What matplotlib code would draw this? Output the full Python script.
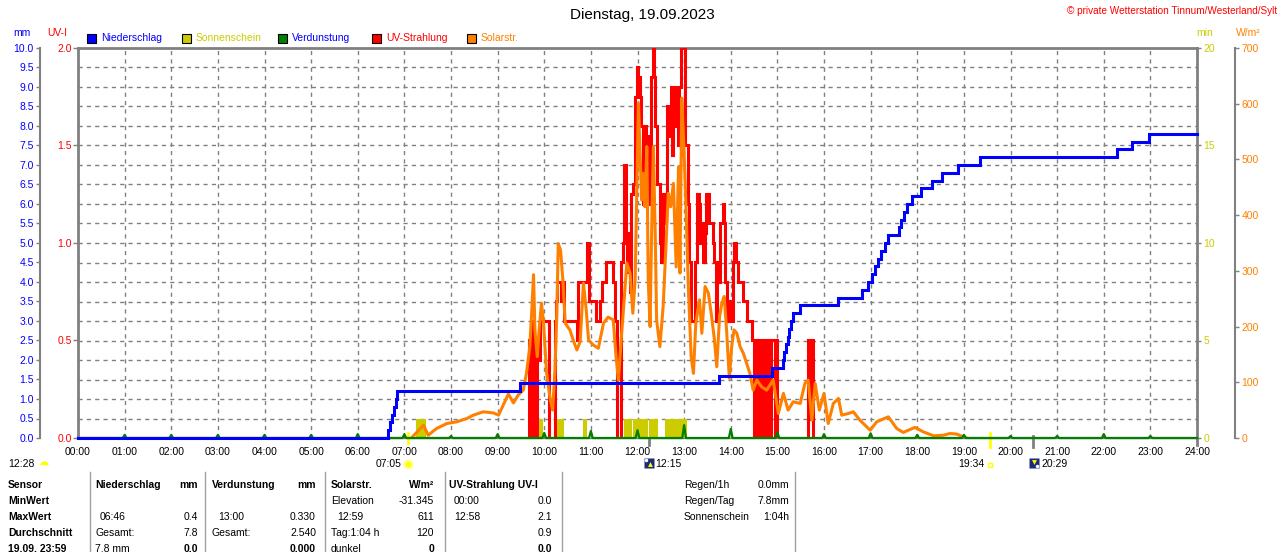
"""
Tagesgrafik Wetterstation: Niederschlag, Sonnenschein, Verdunstung,
UV-Strahlung und Solarstrahlung fuer einen Tag (19.09.2023).
"""
import numpy as np
import matplotlib
matplotlib.use("Agg")
import matplotlib.pyplot as plt
from matplotlib.lines import Line2D
from matplotlib.patches import Rectangle
from matplotlib.transforms import blended_transform_factory

plt.rcParams["font.family"] = ["Liberation Sans", "DejaVu Sans"]

# ── Daten ─────────────────────────────────────────────────────────────────────
hours = list(range(25))
hour_labels = [f"{h:02d}:00" for h in hours]

# Niederschlag kumuliert (mm), Stufen
rain_t = [0, 6.65, 6.69, 6.73, 6.77, 6.81, 6.85, 9.48, 13.75, 14.88,
          15.12, 15.15, 15.19, 15.23, 15.26, 15.30, 15.34, 15.49, 16.29, 16.81,
          16.95, 17.02, 17.09, 17.16, 17.23, 17.30, 17.37, 17.60, 17.66, 17.72,
          17.78, 17.88, 18.09, 18.31, 18.54, 18.88, 19.35, 22.29, 22.60, 22.96, 24]
rain_mm = [0, 0.2, 0.4, 0.6, 0.8, 1.0, 1.2, 1.4, 1.6, 1.8,
           2.0, 2.2, 2.4, 2.6, 2.8, 3.0, 3.2, 3.4, 3.6, 3.8,
           4.0, 4.2, 4.4, 4.6, 4.8, 5.0, 5.2, 5.4, 5.6, 5.8,
           6.0, 6.2, 6.4, 6.6, 6.8, 7.0, 7.2, 7.4, 7.6, 7.8, 7.8]

# Sonnenschein (min)
sun_start = [7.25, 9.73, 10.21, 10.84, 11.70, 11.91, 12.25, 12.59]
sun_end   = [7.46, 9.98, 10.42, 10.92, 11.88, 12.22, 12.43, 13.06]
sun_min   = [1, 1, 1, 1, 1, 1, 1, 1]

# Verdunstung je Stunde (mm)
evap_h  = list(range(1, 24))
evap_mm = [0.08, 0.08, 0.08, 0.08, 0.08, 0.10, 0.10, 0.05, 0.10, 0.13, 0.18, 0.20,
           0.33, 0.23, 0.15, 0.10, 0.12, 0.08, 0.08, 0.05, 0.05, 0.10, 0.05]

# UV-Index
uv_t = [0, 9.67, 9.70, 9.72, 9.75, 9.78, 9.80, 9.82, 9.84, 9.87, 9.91, 10.11, 10.23,
        10.25, 10.28, 10.35, 10.40, 10.42, 10.70, 10.73, 10.91, 10.95, 11.12, 11.20,
        11.23, 11.32, 11.48, 11.52, 11.57, 11.64, 11.68, 11.72, 11.75, 11.77, 11.80,
        11.84, 11.87, 11.91, 11.95, 11.98, 12.02, 12.05, 12.08, 12.11, 12.15, 12.18,
        12.23, 12.27, 12.29, 12.33, 12.35, 12.38, 12.41, 12.48, 12.50, 12.54, 12.57,
        12.61, 12.64, 12.68, 12.71, 12.74, 12.77, 12.81, 12.84, 12.87, 12.90, 12.93,
        13.02, 13.08, 13.11, 13.14, 13.23, 13.27, 13.31, 13.34, 13.38, 13.41, 13.45,
        13.47, 13.54, 13.61, 13.64, 13.68, 13.71, 13.75, 13.78, 13.83, 13.86, 13.88,
        13.91, 13.95, 14.00, 14.04, 14.07, 14.11, 14.16, 14.26, 14.34, 14.45, 14.49,
        14.51, 14.54, 14.56, 14.59, 14.61, 14.64, 14.66, 14.69, 14.71, 14.74, 14.76,
        14.79, 14.81, 14.84, 14.86, 14.95, 14.97, 14.99, 15.66, 15.70, 15.72, 15.76, 24]
uv_i = [0, 0.5, 0.0, 0.6, 0.4, 0.0, 0.5, 0.0, 0.5, 0.4, 0.6, 0.0, 0.6,
        0.7, 0.8, 0.7, 0.8, 0.6, 0.5, 0.8, 1.0, 0.7, 0.6, 0.7,
        0.8, 0.9, 0.8, 0.6, 0.0, 0.9, 1.0, 1.4, 1.0, 0.85, 1.05,
        0.75, 1.25, 1.3, 1.75, 1.9, 1.85, 1.75, 1.6, 1.2, 1.6, 1.2,
        1.55, 1.2, 1.85, 2.0, 1.85, 1.6, 1.3, 1.0, 0.9, 1.25, 1.1,
        1.25, 1.7, 1.55, 1.8, 1.45, 1.8, 1.6, 1.8, 1.5, 1.8, 2.0,
        1.5, 1.2, 0.9, 0.6, 0.9, 1.25, 1.2, 1.0, 1.1, 0.9, 1.05,
        1.25, 1.1, 1.0, 0.9, 0.6, 0.9, 0.8, 1.1, 1.2, 1.1, 0.8,
        0.6, 0.7, 0.6, 0.9, 1.0, 0.9, 0.8, 0.7, 0.6, 0.5, 0.0,
        0.5, 0.0, 0.5, 0.0, 0.5, 0.0, 0.5, 0.0, 0.5, 0.0, 0.5,
        0.0, 0.5, 0.0, 0.5, 0.0, 0.5, 0.0, 0.5, 0.1, 0.5, 0.0, 0]

# Solarstrahlung (W/m²)
solar_t = [7.15, 7.41, 7.51, 7.69, 7.91, 8.12, 8.34, 8.48, 8.69, 8.91, 9.02, 9.12,
           9.23, 9.34, 9.44, 9.55, 9.62, 9.69, 9.73, 9.77, 9.80, 9.85, 9.89, 9.94,
           9.98, 10.05, 10.12, 10.18, 10.23, 10.27, 10.30, 10.35, 10.40, 10.45, 10.55,
           10.62, 10.70, 10.77, 10.84, 10.90, 10.95, 11.05, 11.16, 11.27, 11.37, 11.48,
           11.54, 11.59, 11.66, 11.73, 11.77, 11.84, 11.90, 11.95, 12.02, 12.05, 12.09,
           12.12, 12.16, 12.20, 12.23, 12.27, 12.30, 12.34, 12.38, 12.41, 12.48, 12.55,
           12.61, 12.66, 12.71, 12.77, 12.83, 12.88, 12.91, 12.95, 13.00, 13.04, 13.09,
           13.15, 13.20, 13.25, 13.33, 13.38, 13.45, 13.52, 13.59, 13.65, 13.70, 13.76,
           13.81, 13.86, 13.91, 13.97, 14.02, 14.07, 14.13, 14.20, 14.27, 14.34, 14.41,
           14.48, 14.56, 14.66, 14.77, 14.91, 15.02, 15.13, 15.23, 15.34, 15.49, 15.59,
           15.66, 15.74, 15.81, 15.90, 16.00, 16.09, 16.20, 16.31, 16.38, 16.52, 16.63,
           16.77, 16.99, 17.13, 17.38, 17.56, 17.70, 17.95, 18.13, 18.35, 18.56, 18.70,
           18.85, 18.99, 19.06]
solar_w = [0, 23, 5, 17, 26, 29, 35, 41, 47, 45, 41, 59,
           79, 63, 77, 86, 117, 164, 224, 293, 194, 146, 194, 242,
           212, 117, 74, 50, 122, 224, 349, 337, 283, 206, 194,
           176, 158, 173, 278, 230, 176, 167, 161, 206, 217, 212,
           146, 104, 188, 266, 314, 296, 224, 284, 601, 523, 427,
           475, 415, 523, 284, 200, 355, 523, 367, 212, 164, 236,
           343, 439, 415, 457, 307, 487, 296, 610, 511, 415, 272,
           146, 116, 206, 248, 188, 272, 260, 218, 176, 128, 218,
           242, 254, 194, 107, 164, 194, 188, 164, 152, 134, 116,
           86, 104, 92, 86, 104, 44, 80, 50, 65, 62, 98,
           104, 32, 98, 50, 80, 26, 62, 71, 41, 44, 47,
           32, 14, 29, 38, 17, 10, 19, 11, 4, 5, 8,
           7, 2, 0]

# ── Farben / Layout ───────────────────────────────────────────────────────────
BLUE, RED, ORANGE = "#0000FF", "#FF0000", "#FF8000"
YEL, GREEN, GREY = "#CCCC00", "#008000", "#808080"
NAVY = "#1C2A78"
FS = 7.5

W, H = 1280, 552
fig = plt.figure(figsize=(W / 100, H / 100), dpi=100)
fig.patch.set_facecolor("white")

def fx(x):
    return x / W

def fy(y):
    return 1 - y / H

ax_min = fig.add_axes([fx(78), fy(438), (1197 - 78) / W, (438 - 48) / H])
ax_uv = ax_min.twinx()
ax_w = ax_min.twinx()
ax_mm = ax_min.twinx()

for a in (ax_uv, ax_w, ax_mm):
    for s in a.spines.values():
        s.set_visible(False)

# ── Rahmen und Gitter ─────────────────────────────────────────────────────────
ax_min.set_xlim(0, 24)
ax_min.set_ylim(0, 20)
for name in ("left", "right", "top"):
    ax_min.spines[name].set_color(GREY)
    ax_min.spines[name].set_linewidth(2)
ax_min.spines["bottom"].set_color(GREY)
ax_min.spines["bottom"].set_linewidth(1)

dash = (0, (3, 3))
for y in range(1, 20):
    ax_min.axhline(y, color=GREY, lw=1, ls=dash, zorder=0)
for h in range(1, 24):
    ax_min.axvline(h, color=GREY, lw=1, ls=dash, zorder=0)

ax_min.set_xticks(hours, hour_labels)
ax_min.tick_params(axis="x", length=0, pad=6.5, labelsize=FS, labelcolor="black")

# ── Y-Achsen ──────────────────────────────────────────────────────────────────
ax_min.yaxis.tick_right()
ax_min.set_yticks([0, 5, 10, 15, 20], ["0", "5", "10", "15", "20"])
ax_min.tick_params(axis="y", colors=GREY, labelcolor=YEL, length=3, width=1,
                   pad=1.5, labelsize=FS)

ax_uv.yaxis.tick_left()
ax_uv.set_ylim(0, 2)
ax_uv.set_yticks(np.arange(0, 2.01, 0.5), [f"{v:.1f}" for v in np.arange(0, 2.01, 0.5)])
ax_uv.tick_params(axis="y", colors=GREY, labelcolor=RED, length=3.5, width=1,
                  pad=1, labelsize=FS)

ax_w.yaxis.tick_right()
ax_w.set_ylim(0, 700)
ax_w.set_yticks(range(0, 701, 100), [str(v) for v in range(0, 701, 100)])
ax_w.spines["right"].set_visible(True)
ax_w.spines["right"].set_position(("outward", 27.4))
ax_w.spines["right"].set_color(GREY)
ax_w.spines["right"].set_linewidth(1.5)
ax_w.tick_params(axis="y", colors=GREY, labelcolor=ORANGE, length=3, width=1,
                 pad=1.5, labelsize=FS)

ax_mm.yaxis.tick_left()
ax_mm.set_ylim(0, 10)
mm_ticks = np.arange(0, 10.01, 0.5)
ax_mm.set_yticks(mm_ticks, [f"{v:.1f}" for v in mm_ticks])
ax_mm.spines["left"].set_visible(True)
ax_mm.spines["left"].set_position(("outward", 27.4))
ax_mm.spines["left"].set_color(GREY)
ax_mm.spines["left"].set_linewidth(1.5)
ax_mm.tick_params(axis="y", colors=GREY, labelcolor=BLUE, length=3, width=1,
                  pad=1.5, labelsize=FS)

# ── Kurven ────────────────────────────────────────────────────────────────────
ax_min.bar(sun_start, sun_min, width=np.subtract(sun_end, sun_start),
           align="edge", color=YEL, zorder=2)

ax_uv.plot(uv_t, uv_i, drawstyle="steps-post", color=RED, lw=2.2,
           solid_joinstyle="miter")
ax_w.plot(solar_t, solar_w, color=ORANGE, lw=2.2)

ex, ey = [0], [0]
for h, v in zip(evap_h, evap_mm):
    ex += [h - 0.04, h, h + 0.04]
    ey += [0, v, 0]
ex.append(24)
ey.append(0)
ax_mm.plot(ex, ey, color=GREEN, lw=1.6, clip_on=False)
ax_mm.plot(rain_t, rain_mm, drawstyle="steps-post", color=BLUE, lw=2.2,
           solid_joinstyle="miter", clip_on=False)

# Markierungen an der Zeitachse (Sonnenauf/-untergang, Mittag, Mond)
trans = blended_transform_factory(ax_min.transData, ax_min.transAxes)
for t, c, y0, y1 in [(7.083, "#FFFF00", 0.013, -0.013), (19.567, "#FFFF00", 0.013, -0.023),
                     (12.25, GREY, 0.0, -0.018), (20.483, GREY, 0.005, -0.023),
                     (24, GREY, 0.0, -0.018)]:
    ax_min.plot([t, t], [y0, y1], color=c, lw=2, transform=trans, clip_on=False)

# ── Titel, Legende, Einheiten ─────────────────────────────────────────────────
fig.text(fx(642), fy(15), "Dienstag, 19.09.2023", ha="center", va="center", fontsize=11)
fig.text(fx(1277), fy(11), "© private Wetterstation Tinnum/Westerland/Sylt",
         ha="right", va="center", fontsize=7.2, color=RED)

legend = [("Niederschlag", BLUE, BLUE, 87), ("Sonnenschein", YEL, YEL, 182),
          ("Verdunstung", GREEN, BLUE, 278), ("UV-Strahlung", RED, RED, 372),
          ("Solarstr.", ORANGE, ORANGE, 467)]
for label, box_c, txt_c, x in legend:
    fig.add_artist(Rectangle((fx(x), fy(43)), 9 / W, 9 / H, transform=fig.transFigure,
                             facecolor=box_c, edgecolor="black", lw=0.8))
    fig.text(fx(x + 14), fy(38), label, ha="left", va="center", fontsize=FS, color=txt_c)

fig.text(fx(22), fy(33), "mm", ha="center", va="center", fontsize=FS, color=BLUE)
fig.text(fx(57), fy(33), "UV-I", ha="center", va="center", fontsize=FS, color=RED)
fig.text(fx(1205), fy(33), "min", ha="center", va="center", fontsize=FS, color=YEL)
fig.text(fx(1248), fy(33), "W/m²", ha="center", va="center", fontsize=FS, color=ORANGE)

# ── Sonne / Mond Zeiten unter der Achse ───────────────────────────────────────
def icon(x, y, **kw):
    fig.add_artist(Line2D([fx(x)], [fy(y)], transform=fig.transFigure, **kw))

fig.text(fx(8), fy(464), "12:28", ha="left", va="center", fontsize=FS)
icon(44, 465, marker="o", markersize=6, markerfacecolor="#FFFF00", fillstyle="top",
     markerfacecoloralt="white", markeredgecolor="none")
fig.text(fx(402), fy(464), "07:05", ha="right", va="center", fontsize=FS)
icon(408, 464, marker="o", markersize=7, markerfacecolor="#FFFF80", markeredgecolor="none")
icon(408, 464, marker="o", markersize=4, markerfacecolor="#FFFF00", markeredgecolor="none")
icon(649, 463, marker="s", markersize=7, markerfacecolor=NAVY, markeredgecolor="none")
icon(646, 460, marker="o", markersize=2.5, markerfacecolor="white", markeredgecolor="none")
icon(650, 464, marker="^", markersize=3.5, markerfacecolor="#FFFF00", markeredgecolor="none")
fig.text(fx(655), fy(464), "12:15", ha="left", va="center", fontsize=FS)
fig.text(fx(984), fy(464), "19:34", ha="right", va="center", fontsize=FS)
icon(990, 465, marker="s", markersize=3.5, markerfacecolor="white", markeredgecolor="#FFFF00",
     markeredgewidth=1)
icon(1034, 463, marker="s", markersize=7, markerfacecolor=NAVY, markeredgecolor="none")
icon(1034, 462, marker="v", markersize=3.5, markerfacecolor="#FFFF00", markeredgecolor="none")
icon(1037, 466, marker="o", markersize=2.5, markerfacecolor="white", markeredgecolor="none")
fig.text(fx(1041), fy(464), "20:29", ha="left", va="center", fontsize=FS)

# ── Tabelle ───────────────────────────────────────────────────────────────────
rows_y = [485, 501, 517, 533, 549]
for x in [90, 205, 325, 445, 562, 795]:
    fig.add_artist(Line2D([fx(x), fx(x)], [fy(472), fy(552)], transform=fig.transFigure,
                          color="#A0A0A0", lw=1))

table = [
    (8, 0, "Sensor", "left", True), (8, 1, "MinWert", "left", True),
    (8, 2, "MaxWert", "left", True), (8, 3, "Durchschnitt", "left", True),
    (8, 4, "19.09. 23:59", "left", True),
    (95, 0, "Niederschlag", "left", True), (198, 0, "mm", "right", True),
    (100, 2, "06:46", "left", False), (198, 2, "0.4", "right", False),
    (95, 3, "Gesamt:", "left", False), (198, 3, "7.8", "right", False),
    (95, 4, "7.8 mm", "left", False), (198, 4, "0.0", "right", True),
    (212, 0, "Verdunstung", "left", True), (316, 0, "mm", "right", True),
    (218, 2, "13:00", "left", False), (316, 2, "0.330", "right", False),
    (212, 3, "Gesamt:", "left", False), (316, 3, "2.540", "right", False),
    (316, 4, "0.000", "right", True),
    (331, 0, "Solarstr.", "left", True), (434, 0, "W/m²", "right", True),
    (331, 1, "Elevation", "left", False), (434, 1, "-31.345", "right", False),
    (337, 2, "12:59", "left", False), (434, 2, "611", "right", False),
    (331, 3, "Tag:1:04 h", "left", False), (434, 3, "120", "right", False),
    (331, 4, "dunkel", "left", False), (434, 4, "0", "right", True),
    (449, 0, "UV-Strahlung UV-I", "left", True),
    (454, 1, "00:00", "left", False), (552, 1, "0.0", "right", False),
    (454, 2, "12:58", "left", False), (552, 2, "2.1", "right", False),
    (552, 3, "0.9", "right", False), (552, 4, "0.0", "right", True),
    (684, 0, "Regen/1h", "left", False), (789, 0, "0.0mm", "right", False),
    (684, 1, "Regen/Tag", "left", False), (789, 1, "7.8mm", "right", False),
    (684, 2, "Sonnenschein", "left", False), (789, 2, "1:04h", "right", False),
]
for x, r, txt, ha, bold in table:
    fig.text(fx(x), fy(rows_y[r]), txt, ha=ha, va="center", fontsize=FS,
             fontweight="bold" if bold else "normal")

plt.savefig("out.png", dpi=100, facecolor=fig.get_facecolor())
plt.close()
